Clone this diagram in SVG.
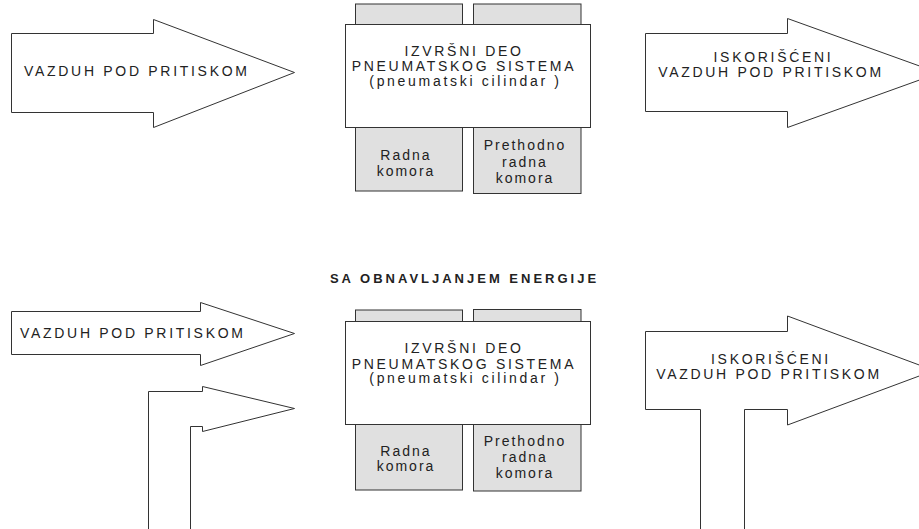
<svg xmlns="http://www.w3.org/2000/svg" width="919" height="529" viewBox="0 0 919 529">
<style>
.ln{fill:none;stroke:#333;stroke-width:1}
.ar{fill:#fff;stroke:#333;stroke-width:1}
.bx{fill:#fff;stroke:#333;stroke-width:1}
.gr{fill:#e0e0e0;stroke:#333;stroke-width:1}
.faint{stroke:#eee;stroke-width:1}
text{font-family:"Liberation Sans",Arial,sans-serif;font-size:14px;fill:#222;letter-spacing:2.7px}
.c{text-anchor:middle}
.sm{letter-spacing:2px}
.t{font-weight:bold;font-size:13px;letter-spacing:3px}
</style>
<rect width="919" height="529" fill="#fff"/>
<g id="connectors">
<line class="faint" x1="148.5" y1="426.5" x2="190.5" y2="426.5"/>
<line class="faint" x1="700.5" y1="409.5" x2="744.5" y2="409.5"/>
</g>
<g id="arrow-in-top">
<polygon class="ar" points="11.5,33.5 153.5,33.5 153.5,19.5 294.5,72.5 153.5,127.5 153.5,112.5 11.5,112.5"/>
<text x="24" y="76">VAZDUH POD PRITISKOM</text>
</g>
<g id="cylinder-top">
<rect class="gr" x="355.5" y="4" width="107" height="187"/>
<rect class="gr" x="473.5" y="4" width="107.5" height="189.5"/>
<rect class="bx" x="345.5" y="24.5" width="245" height="103"/>
<text class="c" x="464" y="56">IZVRŠNI DEO</text>
<text class="c" x="464" y="71">PNEUMATSKOG SISTEMA</text>
<text class="c" x="465.5" y="86">(pneumatski cilindar )</text>
<text class="c sm" x="406" y="160">Radna</text>
<text class="c sm" x="406" y="176">komora</text>
<text class="c sm" x="525" y="150">Prethodno</text>
<text class="c sm" x="525" y="166.5">radna</text>
<text class="c sm" x="525" y="182.5">komora</text>
</g>
<g id="arrow-out-top">
<polygon class="ar" points="645.5,33.5 787.5,33.5 787.5,18.5 939,73 787.5,127.5 787.5,111.5 645.5,111.5"/>
<text class="c" x="773.5" y="62">ISKORIŠĆENI</text>
<text class="c" x="771" y="77">VAZDUH POD PRITISKOM</text>
</g>
<g id="title">
<text class="c t" x="464.5" y="282.5">SA OBNAVLJANJEM ENERGIJE</text>
</g>
<g id="arrow-in-bottom">
<polygon class="ar" points="11.5,311.5 200.5,311.5 200.5,302.5 294.5,333.5 200.5,365.5 200.5,354.5 11.5,354.5"/>
<text x="20" y="337.5">VAZDUH POD PRITISKOM</text>
</g>
<g id="arrow-recovered">
<path class="ar" d="M148.5,529 L148.5,391.5 L202.5,391.5 L202.5,386.5 L294.5,408.5 L202.5,431.5 L202.5,426.5 L190.5,426.5 L190.5,529"/>
</g>
<g id="cylinder-bottom">
<rect class="gr" x="355.5" y="310" width="107" height="180"/>
<rect class="gr" x="473.5" y="309.5" width="107.5" height="181.5"/>
<rect class="bx" x="345.5" y="321.5" width="245" height="103"/>
<text class="c" x="464" y="352.5">IZVRŠNI DEO</text>
<text class="c" x="464" y="368.5">PNEUMATSKOG SISTEMA</text>
<text class="c" x="465.5" y="383">(pneumatski cilindar )</text>
<text class="c sm" x="406" y="455.5">Radna</text>
<text class="c sm" x="406" y="471">komora</text>
<text class="c sm" x="525" y="445.5">Prethodno</text>
<text class="c sm" x="525" y="462">radna</text>
<text class="c sm" x="525" y="478">komora</text>
</g>
<g id="arrow-out-bottom">
<path class="ar" d="M700.5,529 L700.5,409.5 L645.5,409.5 L645.5,331.5 L787.5,331.5 L787.5,316 L934,370.5 L787.5,425 L787.5,409.5 L744.5,409.5 L744.5,529"/>
<text class="c" x="771" y="363.5">ISKORIŠĆENI</text>
<text class="c" x="769" y="379">VAZDUH POD PRITISKOM</text>
</g>
</svg>
